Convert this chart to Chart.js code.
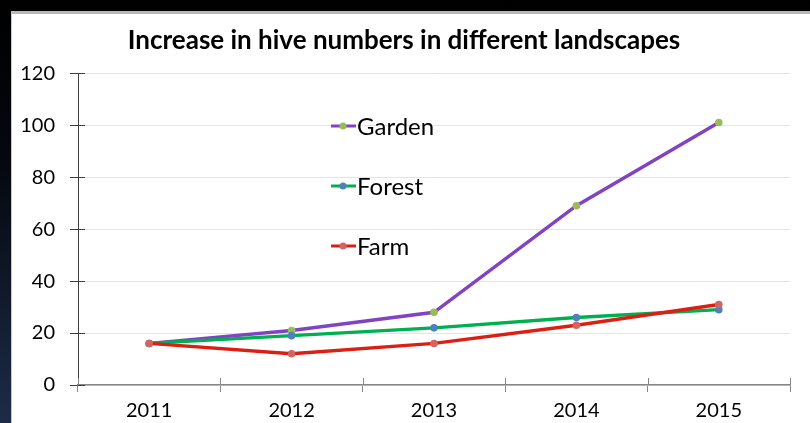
<!DOCTYPE html>
<html>
<head>
<meta charset="utf-8">
<script src="https://cdn.jsdelivr.net/npm/chart.js@4.4.1/dist/chart.umd.min.js"></script>
<style>
  html, body { margin: 0; padding: 0; }
  body {
    width: 810px; height: 423px; overflow: hidden; position: relative;
    background: linear-gradient(to bottom, #000 0%, #05080f 40%, #1c2c48 100%);
  }
  #panel {
    position: absolute; left: 11px; top: 11px; right: 0; bottom: 0;
    background: #fff;
    border-top: 3px solid #b8b8b8;
    border-left: 1px solid #c8c8c8;
  }
  #hiveChart { position: absolute; left: 0; top: 0; }
</style>
</head>
<body>
<div id="panel"></div>
<canvas id="hiveChart" width="810" height="423"></canvas>
<script>
const years = ["2011", "2012", "2013", "2014", "2015"];
const gardenHives = [16, 21, 28, 69, 101];
const forestHives = [16, 19, 22, 26, 29];
const farmHives = [16, 12, 16, 23, 31];
const yTicks = [0, 20, 40, 60, 80, 100, 120];

const FONT = "Lato, 'Open Sans', sans-serif";

// legend drawn inside the plot, stacked, like the original
const insideLegend = {
  id: "insideLegend",
  afterDatasetsDraw(chart) {
    const ctx = chart.ctx;
    const rows = [
      { ds: chart.data.datasets[0], y: 126 },
      { ds: chart.data.datasets[1], y: 186 },
      { ds: chart.data.datasets[2], y: 246 },
    ];
    ctx.save();
    rows.forEach(r => {
      ctx.strokeStyle = r.ds.borderColor;
      ctx.lineWidth = 3;
      ctx.beginPath();
      ctx.moveTo(331, r.y);
      ctx.lineTo(356, r.y);
      ctx.stroke();
      ctx.fillStyle = r.ds.pointBackgroundColor;
      ctx.beginPath();
      ctx.arc(343, r.y, 3.5, 0, Math.PI * 2);
      ctx.fill();
      ctx.fillStyle = "#000";
      ctx.font = "24px " + FONT;
      ctx.textBaseline = "middle";
      ctx.fillText(r.ds.label, 357, r.y + 1);
    });
    ctx.restore();
  }
};

// tick marks that cross the axis lines
const crossTicks = {
  id: "crossTicks",
  afterDraw(chart) {
    const ctx = chart.ctx;
    const x = chart.scales.x, y = chart.scales.y;
    ctx.save();
    ctx.lineWidth = 1;
    ctx.strokeStyle = "#404040";
    yTicks.forEach(v => {
      const py = Math.round(y.getPixelForValue(v)) + 0.5;
      ctx.beginPath();
      ctx.moveTo(x.left, py);
      ctx.lineTo(x.left + 7, py);
      ctx.stroke();
    });
    ctx.strokeStyle = "#868686";
    const step = (x.right - x.left) / years.length;
    for (let i = 0; i <= years.length; i++) {
      const px = Math.round(x.left + i * step) + 0.5;
      ctx.beginPath();
      ctx.moveTo(px, y.bottom);
      ctx.lineTo(px, y.bottom - 7);
      ctx.stroke();
    }
    ctx.restore();
  }
};

new Chart(document.getElementById("hiveChart"), {
  type: "line",
  data: {
    labels: years,
    datasets: [
      {
        label: "Garden",
        data: gardenHives,
        borderColor: "#8044c2",
        pointBackgroundColor: "#9bbb59",
        pointBorderColor: "#9bbb59",
        order: 2,
      },
      {
        label: "Forest",
        data: forestHives,
        borderColor: "#00b050",
        pointBackgroundColor: "#4f81bd",
        pointBorderColor: "#4f81bd",
        order: 1,
      },
      {
        label: "Farm",
        data: farmHives,
        borderColor: "#dc1f14",
        pointBackgroundColor: "#d26461",
        pointBorderColor: "#d26461",
        order: 0,
      },
    ],
  },
  options: {
    responsive: false,
    animation: false,
    devicePixelRatio: 1,
    layout: { padding: { left: 18, right: 20, top: 0, bottom: 0 } },
    elements: {
      line: { borderWidth: 3.4, tension: 0 },
      point: { radius: 3.8, borderWidth: 0, hoverRadius: 4 },
    },
    plugins: {
      legend: { display: false },
      tooltip: { enabled: false },
      title: {
        display: true,
        text: "Increase in hive numbers in different landscapes",
        color: "#000",
        font: { family: FONT, size: 26, weight: "bold" },
        padding: { top: 25, bottom: 17 },
      },
    },
    scales: {
      x: {
        offset: true,
        grid: {
          offset: true,
          drawOnChartArea: false,
          drawTicks: true,
          tickLength: 7,
          color: "#868686",
        },
        border: { color: "#868686", width: 1.5 },
        ticks: {
          color: "#000",
          font: { family: FONT, size: 20 },
          padding: 7,
          maxRotation: 0,
        },
        afterFit(scale) { scale.height = 38; },
      },
      y: {
        min: 0,
        max: 120,
        afterBuildTicks(scale) {
          scale.ticks = yTicks.map(v => ({ value: v }));
        },
        grid: {
          color: "#e4e4e4",
          tickColor: "#404040",
          tickLength: 8,
          drawTicks: true,
        },
        border: { color: "#404040", width: 1 },
        ticks: {
          color: "#000",
          font: { family: FONT, size: 20 },
          padding: 15,
        },
        afterFit(scale) { scale.width = 60; },
      },
    },
  },
  plugins: [insideLegend, crossTicks],
});
</script>
</body>
</html>
